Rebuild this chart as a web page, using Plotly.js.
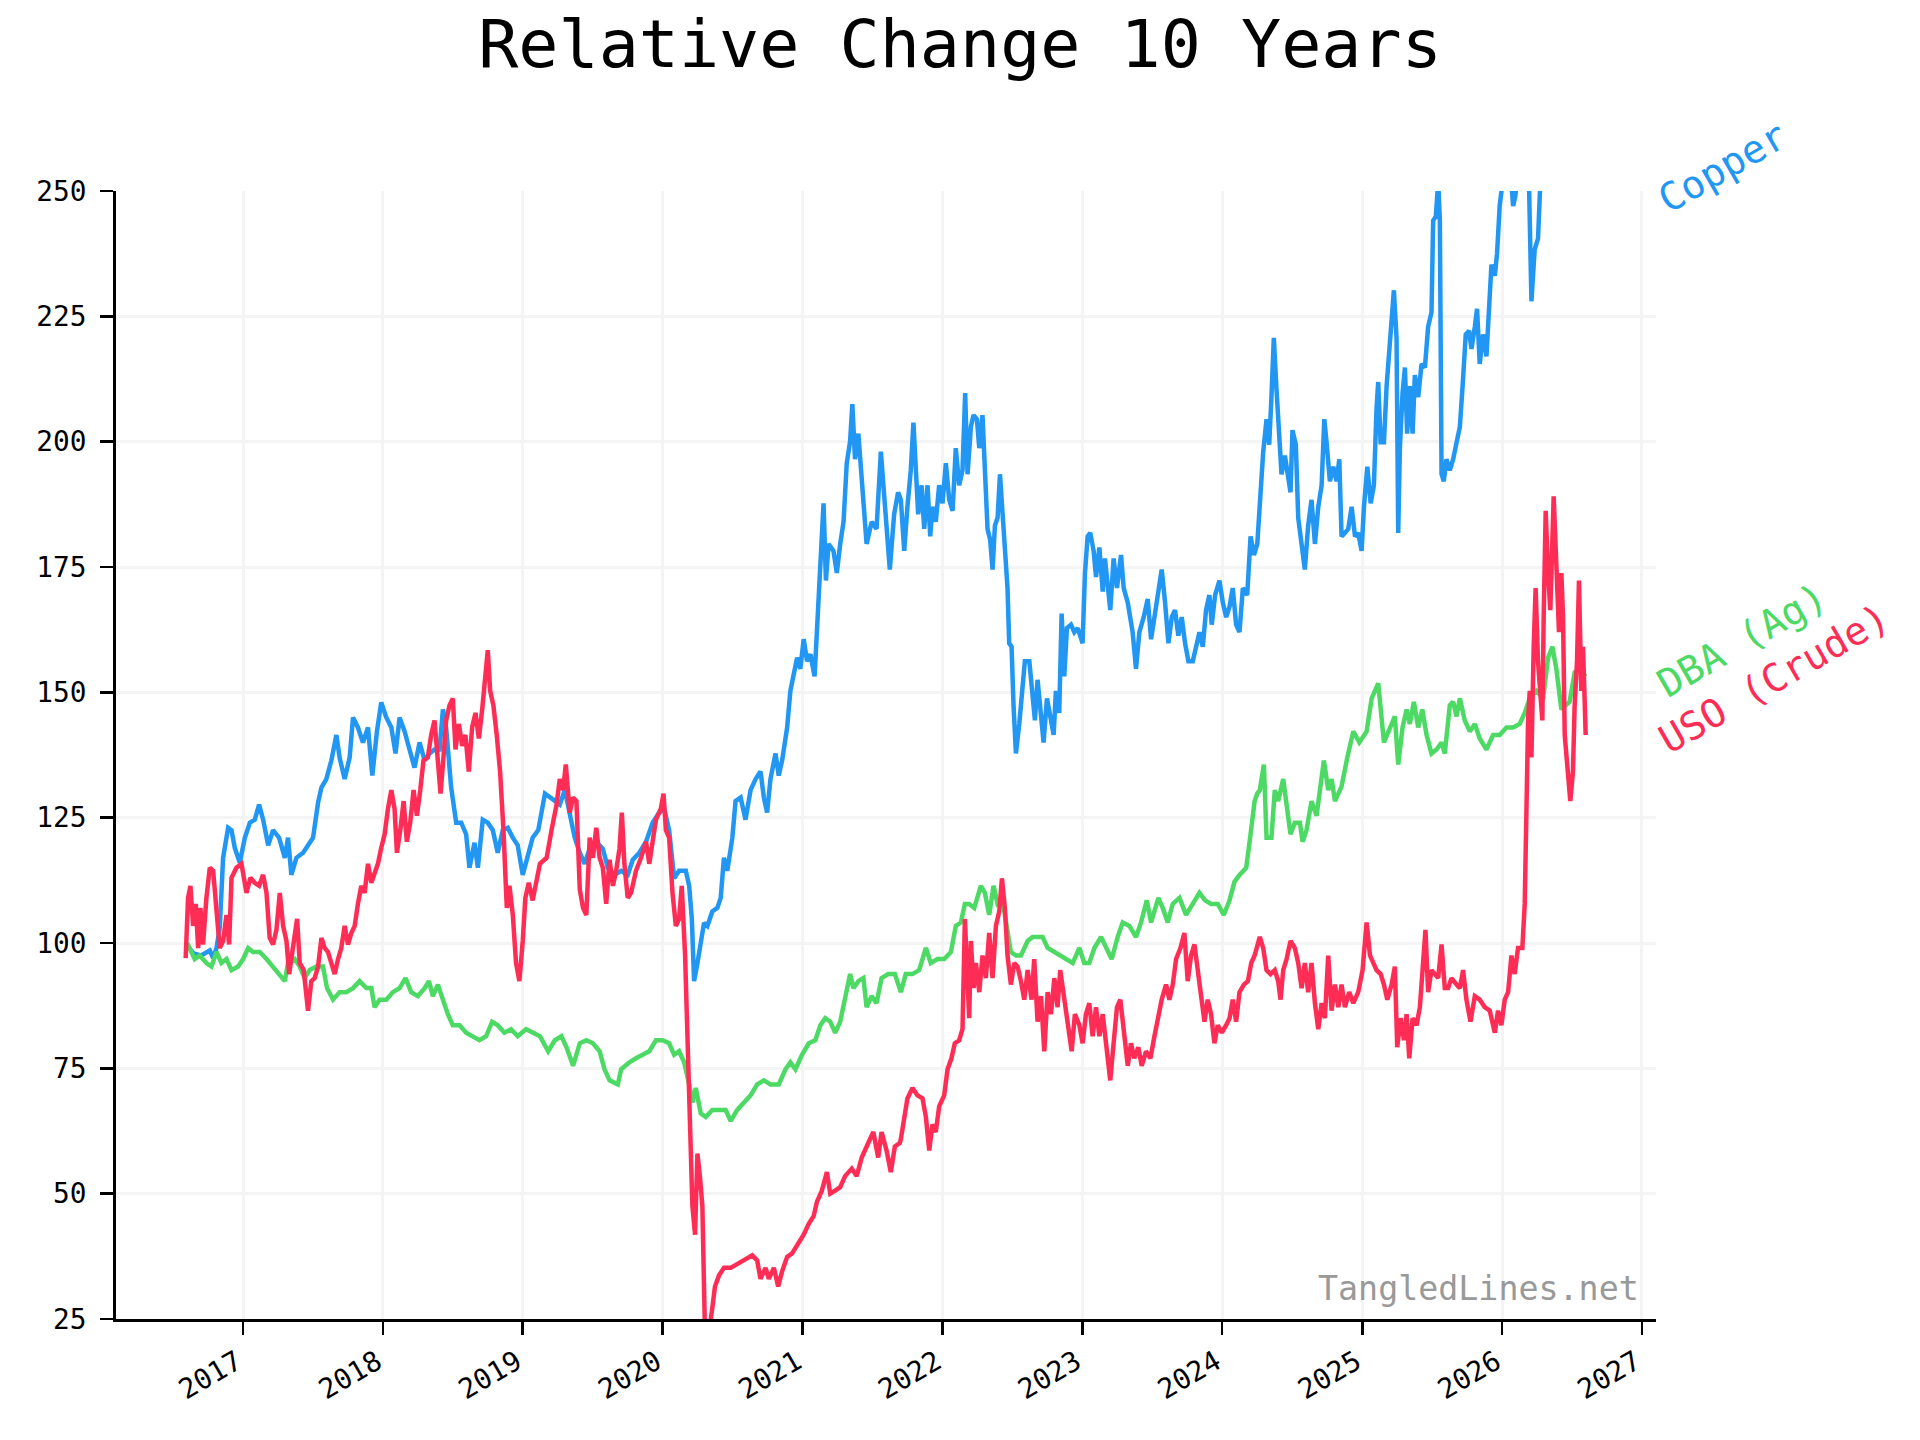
<!DOCTYPE html>
<html>
<head>
<meta charset="utf-8">
<script src="https://cdn.plot.ly/plotly-3.0.1.min.js"></script>
<style>html,body{margin:0;padding:0;background:#fff;}#chart{width:1920px;height:1440px;}</style>
</head>
<body>
<div id="chart"></div>
<script>
// ---- Data (time in decimal years, values relative to start = 100) ----
const copperT = [2016.590,2016.643,2016.700,2016.762,2016.786,2016.810,2016.833,2016.857,2016.893,2016.917,2016.940,2016.976,2017.012,2017.048,2017.083,2017.114,2017.143,2017.179,2017.214,2017.257,2017.298,2017.321,2017.345,2017.381,2017.429,2017.464,2017.500,2017.536,2017.560,2017.595,2017.631,2017.667,2017.690,2017.726,2017.762,2017.786,2017.821,2017.857,2017.893,2017.924,2017.957,2017.988,2018.024,2018.060,2018.090,2018.119,2018.155,2018.190,2018.226,2018.262,2018.298,2018.333,2018.369,2018.405,2018.429,2018.452,2018.488,2018.524,2018.560,2018.595,2018.619,2018.655,2018.679,2018.714,2018.750,2018.786,2018.821,2018.857,2018.893,2018.929,2018.964,2019.000,2019.036,2019.071,
2019.111,2019.159,2019.218,2019.265,2019.301,2019.336,2019.372,2019.408,2019.443,2019.479,2019.526,2019.573,2019.609,2019.656,2019.704,2019.751,2019.787,2019.834,2019.882,2019.929,2019.976,2020.012,2020.047,2020.083,2020.118,2020.166,2020.190,2020.209,2020.225,2020.249,2020.273,2020.296,2020.320,2020.355,2020.391,2020.415,2020.438,2020.462,2020.498,2020.521,2020.557,2020.592,2020.628,2020.664,2020.699,2020.723,2020.746,2020.770,2020.806,2020.829,2020.853,2020.889,2020.912,2020.936,2020.960,2020.983,2021.007,2021.031,2021.055,2021.085,2021.109,2021.133,2021.149,2021.166,2021.185,2021.220,2021.244,2021.268,2021.292,2021.315,2021.339,2021.355,2021.374,2021.398,2021.422,2021.457,2021.493,2021.528,2021.559,2021.588,2021.623,2021.654,2021.682,
2021.702,2021.726,2021.749,2021.773,2021.792,2021.809,2021.826,2021.850,2021.869,2021.893,2021.912,2021.928,2021.952,2021.976,2022.000,2022.024,2022.048,2022.072,2022.095,2022.119,2022.143,2022.162,2022.179,2022.203,2022.222,2022.246,2022.263,2022.286,2022.303,2022.322,2022.341,2022.358,2022.375,2022.394,2022.411,2022.430,2022.446,2022.465,2022.477,2022.494,2022.508,2022.525,2022.549,2022.566,2022.589,2022.621,2022.644,2022.661,2022.680,2022.699,2022.723,2022.747,2022.771,2022.795,2022.811,2022.835,2022.852,2022.871,2022.890,2022.919,2022.943,2022.967,2023.002,2023.019,2023.038,2023.057,2023.081,2023.098,2023.122,2023.146,2023.162,2023.181,2023.200,2023.224,2023.248,2023.277,2023.296,2023.325,2023.360,2023.384,2023.408,2023.439,2023.468,2023.492,2023.516,2023.539,2023.568,2023.592,2023.616,2023.640,2023.663,2023.687,2023.711,2023.735,2023.759,2023.790,2023.814,2023.838,2023.862,2023.885,2023.909,2023.926,2023.950,2023.981,2024.005,2024.029,2024.053,2024.076,2024.100,2024.124,2024.148,2024.179,2024.203,2024.227,2024.251,
2024.269,2024.293,2024.317,2024.336,2024.352,2024.369,2024.388,2024.407,2024.424,2024.448,2024.471,2024.488,2024.502,2024.526,2024.543,2024.567,2024.590,2024.614,2024.638,2024.662,2024.686,2024.710,2024.729,2024.745,2024.769,2024.793,2024.817,2024.836,2024.852,2024.876,2024.900,2024.924,2024.948,2024.971,2024.995,2025.012,2025.036,2025.060,2025.083,2025.102,2025.114,2025.131,2025.155,2025.174,2025.193,2025.210,2025.226,2025.245,2025.257,2025.269,2025.288,2025.305,2025.321,2025.340,2025.360,2025.376,2025.400,2025.424,2025.448,2025.471,2025.495,2025.507,2025.526,2025.543,2025.555,2025.567,2025.583,2025.602,2025.626,2025.650,2025.674,2025.698,2025.721,2025.740,2025.764,2025.781,2025.805,2025.821,2025.840,2025.864,2025.888,2025.907,2025.924,2025.948,2025.964,2025.983,2026.002,2026.030,2026.060,2026.079,2026.095,2026.114,2026.150,2026.193,2026.210,2026.233,2026.257,2026.274,2026.300,2026.360,2026.450,2026.550,2026.598];
const copperV = [100,98,97.5,98.5,97,99,103,117,123,122.5,119,116,121,124,124.6,127.6,124.6,119.5,122.5,121,117,121,113.6,117,118,119.5,121,128,131,132.7,136.4,141.5,137,132.7,137,145,143,140,143,133.4,142.2,148,145,143,137.8,145,142.2,138.6,135,140,136.4,137.8,138.6,138.6,146.6,143,131,124,124,121.7,115,120,115,124.6,124,122.5,118,122.5,123,121,119.5,113.6,117,121,
122.5,129.8,128.6,127.6,130.5,125.4,121,118,115.8,118.8,120.2,118.8,115,113.6,114.4,113.6,116.6,118,120.2,124,126,126.8,122.5,112.9,114.4,114.4,111.4,104.8,92.4,96,100.4,104,103.4,106.3,107,109,117,114.4,121,128.3,129,124.6,130.5,132.7,134.2,129,126,132.7,137.8,133.4,136.4,143,150.3,153.2,156.9,154.7,160.6,156.2,157.6,153.2,166.4,181.1,187.7,172.3,179.6,178.2,173.8,179.6,184,195.7,200.1,207.5,196.5,201.6,193.5,179.6,184,182.6,198,187,174.5,185.5,189.9,
188.4,178.2,187,194.3,203.8,194.3,185.5,191.3,182.6,191.3,181.1,187,184,191.3,187.7,195.7,188.4,186.2,198.7,191.3,194.3,209.7,193.5,203,205.3,204.5,198.7,205.3,192.8,182.6,180.4,174.5,183.3,184.8,193.5,185.5,178.2,170.8,159.8,159.1,147.4,137.8,143.7,148.8,156.2,156.2,148.8,144.4,152.5,145.9,140,148.8,144.4,141.5,150.3,145.9,165.7,153.2,162.8,163.5,162,162.8,159.8,173.8,181.1,181.8,178.2,173,178.9,170.1,176.7,172.3,166.4,176.7,170.8,177.4,170.8,167.9,162,154.7,162,165,168.6,160.6,165,170.1,174.5,167.9,159.8,165,166.4,161.3,165,159.8,156.2,156.2,159.1,162,159.1,166.4,169.4,163.5,169.4,172.3,167.9,165,167.1,170.8,163.5,162,170.8,169.4,181.1,177.4,179.6,
188.4,197.9,204.5,199.4,208.9,220.7,210.4,203,193.5,197.2,193.5,189.9,202.3,199.4,184.8,179.6,174.5,183.3,188.4,179.6,187,191.3,204.5,199.9,192.1,195,192.1,196.5,181.1,181.8,182.6,187,181.1,181.8,178.2,187,195,187.7,191.3,206.7,211.9,199.9,199.9,211.1,218.5,225,230.2,220.7,181.8,198.7,209.7,214.8,201.6,211.1,201.6,213.3,208.9,215.5,214.8,222.9,225.8,244.1,244.9,252,244,193.5,192.1,196.5,194.3,196.5,199.4,203,212.6,221.4,222.1,218.5,222.9,226.5,215.5,221.4,217,227.3,235.3,233.1,237.5,247.1,252,258,254,247,249,255,259,251,228,238.3,240.5,252,258,262,265,268,270];

const dbaT = [2016.600,2016.655,2016.690,2016.738,2016.774,2016.810,2016.845,2016.881,2016.917,2016.964,2017.000,2017.036,2017.071,2017.119,2017.167,2017.214,2017.262,2017.298,2017.321,2017.369,2017.405,2017.440,2017.476,2017.524,2017.571,2017.600,2017.643,2017.690,2017.738,2017.786,2017.833,2017.881,2017.917,2017.940,2017.976,2018.024,2018.071,2018.119,2018.162,2018.202,2018.250,2018.298,2018.329,2018.357,2018.393,2018.429,2018.464,2018.500,2018.548,2018.595,2018.643,2018.690,2018.738,2018.781,2018.821,2018.869,2018.917,2018.964,2019.024,2019.071,
2019.123,2019.182,2019.230,2019.277,2019.313,2019.360,2019.408,2019.455,2019.502,2019.550,2019.585,2019.621,2019.680,2019.704,2019.763,2019.810,2019.858,2019.905,2019.953,2020.000,2020.047,2020.083,2020.118,2020.154,2020.190,2020.213,2020.237,2020.273,2020.308,2020.355,2020.403,2020.450,2020.486,2020.533,2020.581,2020.628,2020.675,2020.723,2020.770,2020.829,2020.877,2020.912,2020.948,2020.995,2021.043,2021.090,2021.126,2021.161,2021.197,2021.232,2021.268,2021.303,2021.339,2021.363,2021.398,2021.434,2021.457,2021.493,2021.528,2021.564,2021.611,2021.659,
2021.702,2021.737,2021.785,2021.833,2021.881,2021.916,2021.964,2022.012,2022.060,2022.095,2022.131,2022.160,2022.191,2022.227,2022.274,2022.303,2022.334,2022.365,2022.394,2022.430,2022.461,2022.489,2022.525,2022.561,2022.609,2022.644,2022.680,2022.716,2022.752,2022.800,2022.847,2022.895,2022.931,2022.979,2023.014,2023.050,2023.086,2023.134,2023.169,2023.210,2023.253,2023.289,2023.337,2023.384,2023.420,2023.461,2023.492,2023.544,2023.575,2023.611,2023.647,2023.695,2023.742,2023.790,2023.838,2023.878,2023.921,2023.969,2024.012,2024.053,2024.088,2024.124,2024.172,2024.203,2024.232,2024.251,
2024.269,2024.298,2024.317,2024.352,2024.376,2024.400,2024.436,2024.460,2024.488,2024.519,2024.555,2024.574,2024.602,2024.638,2024.674,2024.698,2024.726,2024.757,2024.781,2024.805,2024.852,2024.893,2024.936,2024.979,2025.031,2025.067,2025.114,2025.155,2025.198,2025.233,2025.257,2025.288,2025.317,2025.340,2025.369,2025.400,2025.429,2025.460,2025.495,2025.531,2025.567,2025.590,2025.626,2025.650,2025.674,2025.698,2025.733,2025.769,2025.805,2025.840,2025.888,2025.936,2025.983,2026.031,2026.079,2026.126,2026.162,2026.198,2026.245,2026.293,2026.329,2026.360,2026.388,2026.424,2026.455,2026.483,2026.519,2026.555,2026.598];
const dbaV = [100,96.8,97.5,96,95.3,98.2,96,96.8,94.6,95.3,96.8,99,98.2,98.2,96.8,95.3,93.8,92.4,96,96.8,95.3,93,94.6,95.3,95.3,91,88.7,90.2,90.2,91,92.4,91,91,87.2,88.7,88.7,90.2,91,93,90.2,89.4,91,92.4,89.4,91.7,88.7,85.8,83.6,83.6,82.1,81.4,80.6,81.4,84.3,83.6,82.1,82.8,81.4,82.8,82.1,
81.4,78.4,80.6,81.4,79.2,75.5,80,80.6,80,78.4,74.8,72.6,71.8,74.8,76.2,77,77.7,78.4,80.6,80.6,80,77.7,78.4,76.2,71.8,68.2,71.1,66,65.3,66.7,66.7,66.7,64.5,66.7,68.2,69.6,71.8,72.6,71.8,71.8,74.8,76.2,74.8,77.7,80,80.6,83.6,85,84.3,82.1,84.3,89.4,93.8,91,92.4,93,87.2,89.4,88,93,93.8,93.8,
90.2,93.8,93.8,94.6,99,96,96.8,96.8,98.2,103.4,104.1,107.8,107.8,107,111.4,110,105.6,111.4,107.8,108.5,103.4,98.2,97.5,97.5,100.4,101.2,101.2,101.2,99,98.2,97.5,96.8,96,99,96,96,99,101.2,99,96.8,101.2,104.1,103.4,101.2,104.1,108.5,104.1,109,107,104.1,107.8,109,105.6,107.8,110,108.5,107.8,107.8,105.6,108.5,112.2,113.6,115,121.7,128.3,129.8,
130.5,135.6,121,121,130.5,128.3,132.7,127.6,121.7,124,124,120.2,122.5,128.3,125.4,130.5,136.4,130.5,132.7,128.3,131.2,137,142.2,140,142.2,148.8,151.8,140,143,145.2,135.6,143,146.6,143.7,148.1,143,146.6,141.5,137.8,138.6,140,137.8,147.4,148.1,145.2,148.8,144.4,142.2,143.7,140.8,138.6,141.5,141.5,143,143,143.7,145.9,148.8,150.3,148.8,156.9,159.1,154.7,146.6,147.4,148.1,154,154.7,153.2];

const usoT = [2016.590,2016.607,2016.624,2016.643,2016.662,2016.679,2016.695,2016.714,2016.738,2016.762,2016.786,2016.810,2016.833,2016.857,2016.881,2016.900,2016.917,2016.952,2016.988,2017.024,2017.052,2017.083,2017.114,2017.143,2017.167,2017.190,2017.214,2017.238,2017.262,2017.286,2017.310,2017.329,2017.357,2017.386,2017.405,2017.433,2017.464,2017.488,2017.512,2017.536,2017.560,2017.583,2017.607,2017.631,2017.655,2017.679,2017.702,2017.726,2017.750,2017.774,2017.798,2017.821,2017.845,2017.869,2017.893,2017.917,2017.940,2017.964,2017.988,2018.012,2018.036,2018.060,2018.083,2018.100,2018.124,2018.148,2018.171,2018.195,2018.219,2018.243,2018.267,2018.290,2018.321,2018.345,2018.369,2018.388,2018.412,2018.433,2018.452,2018.476,2018.500,2018.519,2018.543,2018.567,2018.590,2018.614,2018.638,2018.662,2018.686,2018.710,2018.733,2018.750,2018.767,2018.790,2018.814,2018.838,2018.862,2018.886,2018.905,2018.929,2018.952,2018.976,2019.000,2019.019,2019.043,2019.071,
2019.123,2019.171,2019.206,2019.242,2019.265,2019.289,2019.308,2019.336,2019.360,2019.384,2019.408,2019.431,2019.455,2019.479,2019.502,2019.526,2019.550,2019.573,2019.597,2019.621,2019.645,2019.668,2019.692,2019.709,2019.727,2019.751,2019.775,2019.810,2019.846,2019.882,2019.905,2019.929,2019.953,2019.988,2020.007,2020.024,2020.047,2020.071,2020.095,2020.118,2020.137,2020.161,2020.178,2020.194,2020.213,2020.232,2020.249,2020.268,2020.284,2020.303,2020.320,2020.355,2020.374,2020.403,2020.438,2020.486,2020.533,2020.581,2020.640,2020.675,2020.699,2020.735,2020.758,2020.794,2020.825,2020.853,2020.889,2020.924,2020.972,2021.007,2021.043,2021.078,2021.102,2021.137,2021.173,2021.197,2021.232,2021.268,2021.303,2021.351,2021.386,2021.422,2021.469,2021.505,2021.540,2021.564,2021.600,2021.630,2021.659,2021.694,
2021.702,2021.726,2021.749,2021.785,2021.821,2021.857,2021.881,2021.905,2021.928,2021.952,2021.976,2022.012,2022.036,2022.064,2022.088,2022.119,2022.143,2022.160,2022.174,2022.191,2022.203,2022.222,2022.239,2022.263,2022.286,2022.310,2022.334,2022.358,2022.382,2022.406,2022.425,2022.446,2022.465,2022.489,2022.513,2022.537,2022.561,2022.585,2022.609,2022.637,2022.656,2022.680,2022.704,2022.728,2022.752,2022.776,2022.800,2022.823,2022.842,2022.871,2022.895,2022.924,2022.947,2022.979,2023.002,2023.026,2023.050,2023.074,2023.098,2023.122,2023.146,2023.169,2023.200,2023.224,2023.248,2023.272,2023.296,2023.325,2023.348,2023.372,2023.401,2023.425,2023.456,2023.487,2023.516,2023.544,2023.568,2023.599,2023.623,2023.647,2023.671,2023.702,2023.730,2023.754,2023.778,2023.802,2023.826,2023.850,2023.874,2023.897,2023.921,2023.945,2023.969,2023.998,2024.029,2024.053,2024.076,2024.100,2024.124,2024.155,2024.184,2024.208,2024.232,
2024.269,2024.293,2024.317,2024.345,2024.376,2024.400,2024.417,2024.436,2024.460,2024.488,2024.519,2024.543,2024.567,2024.590,2024.614,2024.638,2024.662,2024.686,2024.710,2024.733,2024.757,2024.781,2024.805,2024.829,2024.852,2024.876,2024.907,2024.936,2024.971,2025.002,2025.031,2025.055,2025.079,2025.102,2025.131,2025.155,2025.179,2025.210,2025.233,2025.250,2025.274,2025.298,2025.317,2025.336,2025.360,2025.388,2025.412,2025.436,2025.452,2025.471,2025.495,2025.519,2025.543,2025.567,2025.590,2025.614,2025.638,2025.674,2025.698,2025.721,2025.745,2025.774,2025.805,2025.840,2025.876,2025.912,2025.948,2025.971,2025.995,2026.019,2026.043,2026.067,2026.090,2026.114,2026.145,2026.162,2026.174,2026.186,2026.198,2026.210,2026.226,2026.240,2026.257,2026.274,2026.288,2026.298,2026.312,2026.329,2026.345,2026.369,2026.388,2026.407,2026.424,2026.436,2026.448,2026.471,2026.488,2026.507,2026.519,2026.536,2026.550,2026.567,2026.579,2026.598];
const usoV = [97,109,111.4,103.4,107.8,99,107,99.7,109,115,114.4,107,99,100.4,105.6,99.7,113,115,115.8,110,113,112,111.4,113.6,110,101,99.7,102.6,110,103.4,100.4,93.8,99.7,104.8,96,94.6,86.5,92.4,93,95.3,101,99,98.2,96,93.8,96.8,99,103.4,99.7,102,103.4,107.8,111.4,110,115.8,112,113.6,115.8,119,121.7,126.8,130.5,126.8,118,122.5,128.3,120.2,124,130.5,125.4,130.5,136.4,137,141.5,144.4,137,129.8,137,144.4,147.4,148.8,138.6,143.7,139.3,141.5,134.2,143,145.9,140.8,146.6,152.5,158.4,150.3,147.4,141.5,134.2,122.5,107,111.4,105.6,96,92.4,100.4,109,112,108.5,
115.8,117,122.5,127.6,132.7,130.5,135.6,126,129,128.3,110.7,107,105.6,121,117,123,117,115,107.8,116.6,111.4,114.4,118.8,126,115.8,109,110,114.4,117,120.2,115.8,121,124.6,126.8,129.8,122.5,121,110,103.4,104.8,111.4,97.5,80,64.5,47.6,41.8,58,53,47.6,22,20,27.2,31.5,33.7,35.2,35.2,36,36.7,37.7,36.7,33,35.2,33,35.2,31.5,34.5,37.4,38.1,40.3,41.8,44,45.5,48.4,50.6,54.3,50,50.6,51.3,53.5,55,53.5,57.2,60.1,62.3,57.2,62.3,58.6,54.3,59.4,60.1,
60.9,65.3,69,71.1,69.6,69,65.3,58.6,63.8,62.3,67.4,69.6,74.8,77,80,80.6,82.8,104.8,97.5,85,100.4,91,96,90.2,97.5,93,102,93,103.4,106.3,112.9,107,97.5,91.7,96,95.3,92.4,88.7,94.6,88.7,96.8,84.3,89.4,78.4,90.2,85.8,93,87.2,94.6,88.7,83.6,78.4,85.8,83.6,80,85.8,88,81.4,87.2,81.4,85.8,80,72.6,80,87.2,88.7,82.8,75.5,80,77,79.2,75.5,78.4,77,81.4,85.8,88.7,91.7,88.7,91.7,96.8,99,102,92.4,97.5,99.7,93.8,89.4,84.3,88.7,85.8,80,83.6,82.1,83.6,85,88.7,84.3,90.2,91.7,92.4,96,97.5,
101.2,99,94.6,93.8,94.6,92.4,88.7,94.6,96.8,100.4,99,96,91,96,90.2,96,88,82.8,88,85,97.5,86.5,91.7,87.2,91.7,87.2,90.2,88,90.2,94.6,104.1,97.5,96,94.6,93.8,91.7,88.7,91.7,95.3,79.2,85,80.6,85.8,77,85,83.6,87.2,96,102.6,90.2,94.6,93.8,93,99.7,91,91,93,91.7,91,94.6,88.7,84.3,89.4,88.7,87.2,86.5,82.1,86.5,83.6,88.7,90.2,97.5,93.8,99,99,107.8,132.7,144.4,150.3,137,159.1,170.8,156.2,150.3,144.4,165.7,186.2,173.8,166.4,189.1,176.7,162,173.8,165,141.5,134.2,128.3,134.2,147.4,156.2,172.3,150.3,159.1,141.5];

const yearTicks = [2017,2018,2019,2020,2021,2022,2023,2024,2025,2026,2027];
const yTicks = [25,50,75,100,125,150,175,200,225,250];
const seriesNames = ['Copper','DBA (Ag)','USO (Crude)'];
const seriesColors = ['#2196F3','#4CD964','#FF2D55'];

// decimal year -> ISO date string
function toDate(t){
  const y = Math.floor(t);
  const a = Date.UTC(y,0,1), b = Date.UTC(y+1,0,1);
  return new Date(a + (t - y) * (b - a)).toISOString().slice(0,19);
}

const mono = 'DejaVu Sans Mono, monospace';
const series = [[copperT,copperV],[dbaT,dbaV],[usoT,usoV]];
const traces = series.map((s,i)=>({
  type:'scatter', mode:'lines', name: seriesNames[i],
  x: s[0].map(toDate), y: s[1],
  line:{color: seriesColors[i], width:4.5},
  hoverinfo:'skip'
}));

const L = 116, R = 1656, T = 191, B = 1319;
const W = R - L, H = B - T;

const layout = {
  width:1920, height:1440,
  paper_bgcolor:'#ffffff', plot_bgcolor:'#ffffff',
  showlegend:false,
  margin:{l:L, r:1920-R, t:T, b:1440-B, pad:0},
  title:{text:'Relative Change 10 Years', font:{family:mono, size:66.7, color:'#000'},
         x:0.5, xref:'container', xanchor:'center', y:1-44/1440, yref:'container', yanchor:'middle'},
  xaxis:{
    type:'date', range:[toDate(2016.093), toDate(2027.101)],
    tickvals: yearTicks.map(y=>toDate(y)), ticktext: yearTicks.map(String),
    tickangle:-30, ticks:'outside', ticklen:13, tickwidth:2.5, tickcolor:'#000',
    showline:true, linecolor:'#000', linewidth:3,
    showgrid:true, gridcolor:'#f4f4f4', gridwidth:3, zeroline:false,
    tickfont:{family:mono, size:27.8, color:'#000'}, ticklabelstandoff:0, ticklabelshift:-6
  },
  yaxis:{
    range:[25,250], tickvals:yTicks, ticktext:yTicks.map(String),
    ticks:'outside', ticklen:13, tickwidth:2.5, tickcolor:'#000',
    showline:true, linecolor:'#000', linewidth:3,
    showgrid:true, gridcolor:'#f4f4f4', gridwidth:3, zeroline:false,
    tickfont:{family:mono, size:27.8, color:'#000'}, ticklabelstandoff:8
  },
  annotations:[
    {text:seriesNames[0], xref:'paper', yref:'paper', x:(1722-L)/W, y:(B-167)/H,
     xanchor:'center', yanchor:'middle', textangle:-30, showarrow:false,
     font:{family:mono, size:38.9, color:seriesColors[0]}},
    {text:seriesNames[1], xref:'paper', yref:'paper', x:(1741-L)/W, y:(B-640)/H,
     xanchor:'center', yanchor:'middle', textangle:-30, showarrow:false,
     font:{family:mono, size:38.9, color:seriesColors[1]}},
    {text:seriesNames[2], xref:'paper', yref:'paper', x:(1774-L)/W, y:(B-678)/H,
     xanchor:'center', yanchor:'middle', textangle:-30, showarrow:false,
     font:{family:mono, size:38.9, color:seriesColors[2]}},
    {text:'TangledLines.net', xref:'paper', yref:'paper', x:(1641-L)/W, y:(B-1288)/H,
     xanchor:'right', yanchor:'middle', showarrow:false,
     font:{family:mono, size:33.3, color:'#999999'}}
  ]
};

Plotly.newPlot('chart', traces, layout, {displayModeBar:false, staticPlot:true});
</script>
</body>
</html>
